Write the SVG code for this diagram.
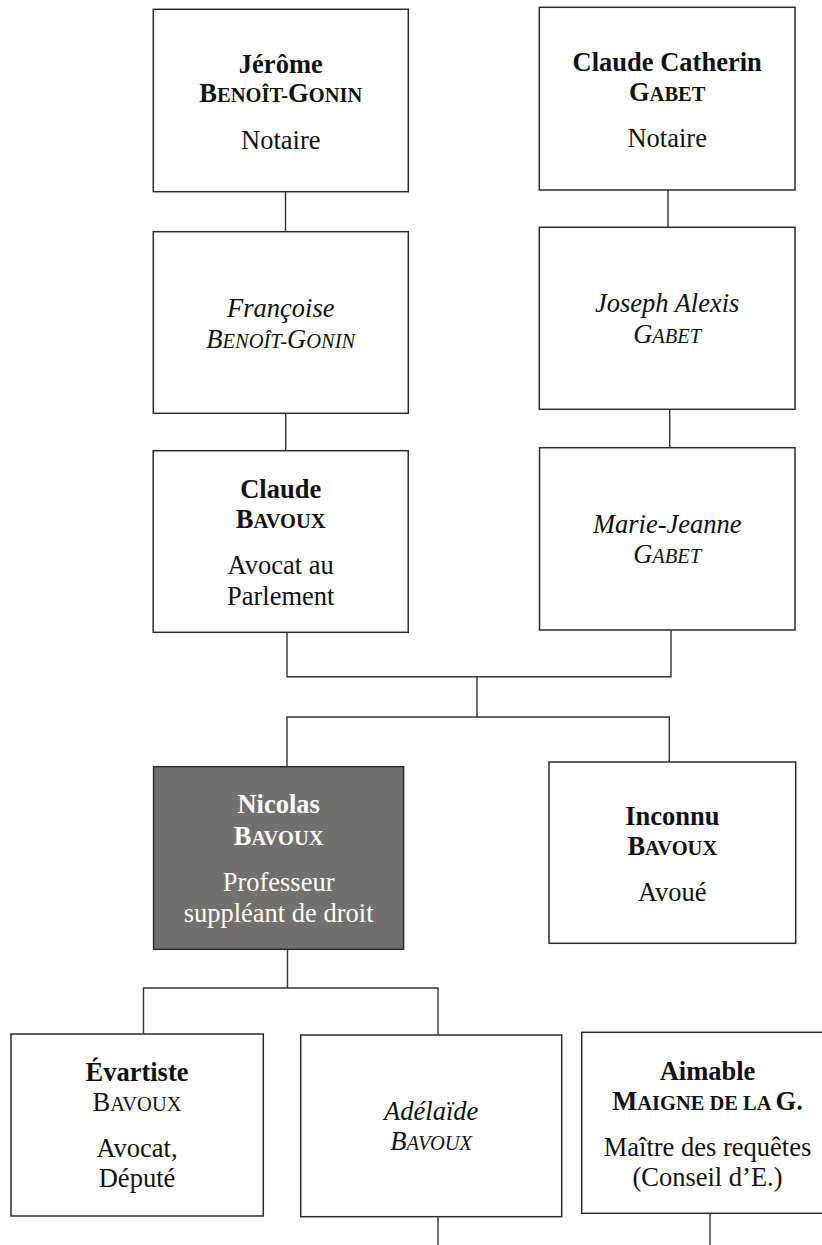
<svg xmlns="http://www.w3.org/2000/svg" width="822" height="1245" viewBox="0 0 822 1245">
<style>
.box{fill:#fff;stroke:#2b2b2b;stroke-width:1.5}
.dark{fill:#736f6d;stroke:#2b2b2b;stroke-width:1.5}
.conn{fill:none;stroke:#333;stroke-width:1.4}
text{font-family:"Liberation Serif","Times New Roman",serif;font-size:26.5px;fill:#111;text-anchor:middle}
.b{font-weight:bold}
.i{font-style:italic}
.w{fill:#fff}
.sc{font-size:20.5px}
</style>
<rect width="822" height="1245" fill="#fff"/>
<g id="connectors">
<path class="conn" d="M285.5,191.7V231.7"/>
<path class="conn" d="M668,190V227.3"/>
<path class="conn" d="M285.7,413.3V450.7"/>
<path class="conn" d="M669.7,409.3V447.7"/>
<path class="conn" d="M287,632.3V676.7H671V630"/>
<path class="conn" d="M477,676.7V717"/>
<path class="conn" d="M287,766.7V717H669.3V762"/>
<path class="conn" d="M287.5,949.3V988"/>
<path class="conn" d="M143.5,1034V988H438V1035"/>
<path class="conn" d="M438,1216.7V1245"/>
<path class="conn" d="M710,1213.3V1245"/>
</g>
<g id="jerome">
<rect class="box" x="153.3" y="9.3" width="255" height="182.4"/>
<text class="b" x="280.8" y="72.7">Jérôme</text>
<text class="b" x="280.8" y="101.7">B<tspan class="sc">ENOÎT-</tspan>G<tspan class="sc">ONIN</tspan></text>
<text x="280.8" y="149.3">Notaire</text>
</g>
<g id="claude-catherin">
<rect class="box" x="539.3" y="7.3" width="255.7" height="182.7"/>
<text class="b" x="667.2" y="70.7">Claude Catherin</text>
<text class="b" x="667.2" y="100.7">G<tspan class="sc">ABET</tspan></text>
<text x="667.2" y="146.7">Notaire</text>
</g>
<g id="francoise">
<rect class="box" x="153.3" y="231.7" width="255" height="181.6"/>
<text class="i" x="280.8" y="316.7">Françoise</text>
<text class="i" x="280.8" y="347.7">B<tspan class="sc">ENOÎT-</tspan>G<tspan class="sc">ONIN</tspan></text>
</g>
<g id="joseph">
<rect class="box" x="539.3" y="227.3" width="255.7" height="182"/>
<text class="i" x="667.2" y="311.7">Joseph Alexis</text>
<text class="i" x="667.2" y="343.3">G<tspan class="sc">ABET</tspan></text>
</g>
<g id="claude-bavoux">
<rect class="box" x="153.2" y="450.7" width="255" height="181.6"/>
<text class="b" x="280.7" y="498.3">Claude</text>
<text class="b" x="280.7" y="528.3">B<tspan class="sc">AVOUX</tspan></text>
<text x="280.7" y="574">Avocat au</text>
<text x="280.7" y="605">Parlement</text>
</g>
<g id="marie-jeanne">
<rect class="box" x="539.5" y="447.7" width="255.5" height="182.3"/>
<text class="i" x="667.2" y="533.3">Marie-Jeanne</text>
<text class="i" x="667.2" y="563.3">G<tspan class="sc">ABET</tspan></text>
</g>
<g id="nicolas">
<rect class="dark" x="153.6" y="766.7" width="250" height="182.6"/>
<text class="b w" x="278.6" y="813.3">Nicolas</text>
<text class="b w" x="278.6" y="845">B<tspan class="sc">AVOUX</tspan></text>
<text class="w" x="278.6" y="890.7">Professeur</text>
<text class="w" x="278.6" y="921.7">suppléant de droit</text>
</g>
<g id="inconnu">
<rect class="box" x="549" y="762" width="246.7" height="181.3"/>
<text class="b" x="672.3" y="825">Inconnu</text>
<text class="b" x="672.3" y="855">B<tspan class="sc">AVOUX</tspan></text>
<text x="672.3" y="900.7">Avoué</text>
</g>
<g id="evartiste">
<rect class="box" x="11" y="1034" width="252.3" height="182"/>
<text class="b" x="137" y="1081">Évartiste</text>
<text x="137" y="1111">B<tspan class="sc">AVOUX</tspan></text>
<text x="137" y="1157.3">Avocat,</text>
<text x="137" y="1187.3">Député</text>
</g>
<g id="adelaide">
<rect class="box" x="300.7" y="1035" width="261" height="181.7"/>
<text class="i" x="431.2" y="1120">Adélaïde</text>
<text class="i" x="431.2" y="1150">B<tspan class="sc">AVOUX</tspan></text>
</g>
<g id="aimable">
<rect class="box" x="581.7" y="1032.3" width="252" height="181"/>
<text class="b" x="707.5" y="1080">Aimable</text>
<text class="b" x="707.5" y="1110">M<tspan class="sc">AIGNE DE LA </tspan>G.</text>
<text x="707.5" y="1156">Maître des requêtes</text>
<text x="707.5" y="1186">(Conseil d’E.)</text>
</g>
</svg>
